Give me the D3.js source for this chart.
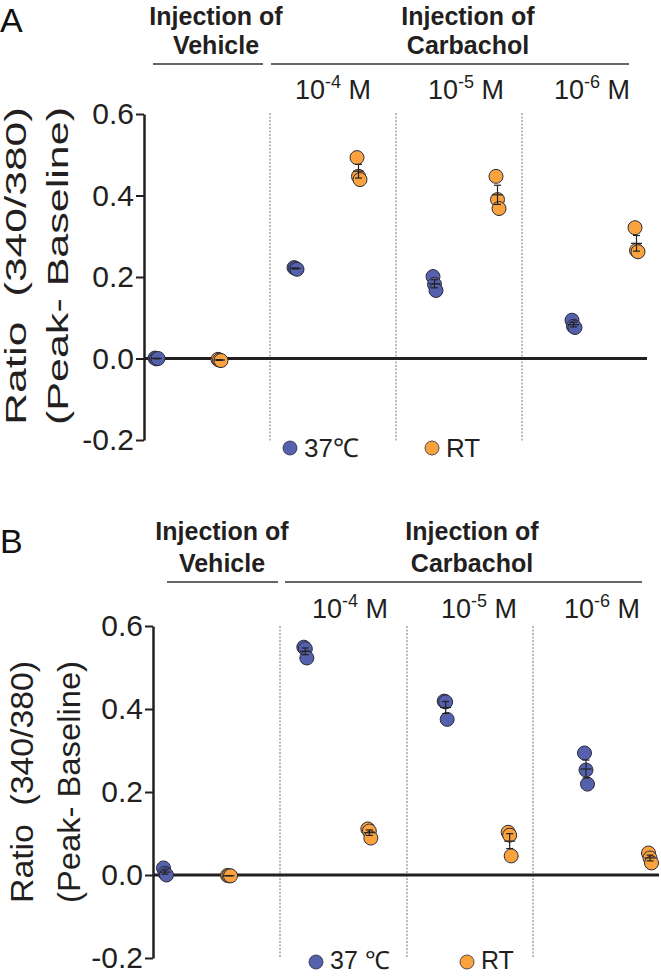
<!DOCTYPE html>
<html>
<head>
<meta charset="utf-8">
<script src="https://cdn.jsdelivr.net/npm/d3@7"></script>
<style>
  body { margin: 0; background: #fff; }
  svg { display: block; font-family: "Liberation Sans", Arial, sans-serif; }
</style>
</head>
<body>
<svg id="chart" width="661" height="976"></svg>
<script>
(function () {
    "use strict";

    // categories
    var groups = ["Vehicle", "1e-4", "1e-5", "1e-6"];
    var series = ["37℃", "RT"];
    var concLabels = [["10", "-4", " M"], ["10", "-5", " M"], ["10", "-6", " M"]];
    var tickValues = [-0.2, 0.0, 0.2, 0.4, 0.6];

    // panel A values, one array of replicates per group
    var a37 = [[0.001, -0.001, 0.0], [0.223, 0.221, 0.219], [0.201, 0.182, 0.167], [0.094, 0.079, 0.076]];
    var aRT = [[-0.002, -0.004, -0.005], [0.493, 0.447, 0.439], [0.447, 0.39, 0.368], [0.321, 0.265, 0.262]];

    // panel B values
    var b37 = [[0.017, 0.004, 0.0], [0.549, 0.545, 0.523], [0.419, 0.417, 0.375], [0.294, 0.253, 0.219]];
    var bRT = [[-0.001, -0.002, -0.002], [0.111, 0.106, 0.089], [0.103, 0.096, 0.046], [0.053, 0.041, 0.029]];

    var colors = { "37℃": "#5561ad", "RT": "#f9a23e" };
    var ink = "#231f20";
    var R = 7;

    var svg = d3.select("#chart");

    var panels = [
        {
            letter: "A", letterY: 32, data: [a37, aRT],
            xr: [186.5, 603.5], yr: [440, 114], axisX: 144, zeroEnd: 647, sOff: 31.5,
            h1: 25, h2: 54, hLine: 64, vehLine: [153, 263], carbLine: [271, 629],
            vehX: 216, carbX: 468, concY: 99, concX: [333, 466, 592],
            dividers: [270, 396, 522], divTop: 113, divBottom: 441,
            legY: 448, legTextY: 457, legend: [[290, "37℃"], [432, "RT"]],
            ylabY: 266, ylabX: [26, 68], ylabLen: 318, ylabFont: 30
        },
        {
            letter: "B", letterY: 553, data: [b37, bRT],
            xr: [195.5, 616.5], yr: [958, 626], axisX: 153, zeroEnd: 659, sOff: 32,
            h1: 540, h2: 572, hLine: 582, vehLine: [167, 278], carbLine: [285, 642],
            vehX: 222, carbX: 472, concY: 618, concX: [350, 479, 602],
            dividers: [280, 407, 533], divTop: 626, divBottom: 958,
            legY: 962, legTextY: 969, legend: [[316, "37 ℃"], [467, "RT"]],
            ylabY: 782, ylabX: [33, 80], ylabLen: 242, ylabFont: 32
        }
    ];

    function mean(v) { return d3.mean(v); }
    function sem(v) { return d3.deviation(v) / Math.sqrt(v.length); }

    panels.forEach(function (p, pi) {
        var g = svg.append("g");
        var x = d3.scaleLinear().domain([0, groups.length - 1]).range(p.xr);
        var xs = d3.scalePoint().domain(series).range([-p.sOff, p.sOff]);
        var y = d3.scaleLinear().domain([-0.2, 0.6]).range(p.yr);

        // panel letter
        g.append("text").attr("x", 0).attr("y", p.letterY)
            .style("font-size", "34px").attr("fill", "#111").text(p.letter);

        // headers
        [[p.vehX, "Vehicle"], [p.carbX, "Carbachol"]].forEach(function (h) {
            g.append("text").attr("x", h[0]).attr("y", p.h1).attr("text-anchor", "middle")
                .style("font-size", "25px").style("font-weight", "bold").attr("fill", ink)
                .text("Injection of");
            g.append("text").attr("x", h[0]).attr("y", p.h2).attr("text-anchor", "middle")
                .style("font-size", "25px").style("font-weight", "bold").attr("fill", ink)
                .text(h[1]);
        });
        [p.vehLine, p.carbLine].forEach(function (l) {
            g.append("line").attr("x1", l[0]).attr("x2", l[1])
                .attr("y1", p.hLine).attr("y2", p.hLine)
                .attr("stroke", "#333").attr("stroke-width", 1.5);
        });

        // concentrations
        concLabels.forEach(function (c, i) {
            var t = g.append("text").attr("x", p.concX[i]).attr("y", p.concY)
                .attr("text-anchor", "middle").attr("fill", ink).style("font-size", "27px");
            t.append("tspan").text(c[0]);
            t.append("tspan").attr("dy", -11).style("font-size", "18px").text(c[1]);
            t.append("tspan").attr("dy", 11).text(c[2]);
        });

        // dotted dividers
        p.dividers.forEach(function (d) {
            g.append("line").attr("x1", d).attr("x2", d)
                .attr("y1", p.divTop).attr("y2", p.divBottom)
                .attr("stroke", "#777").attr("stroke-width", 1)
                .attr("stroke-dasharray", "2,1.5");
        });

        // y axis
        var axis = d3.axisLeft(y).tickValues(tickValues).tickSize(8).tickSizeOuter(0).tickPadding(2)
            .tickFormat(function (d) { return d3.format(".1f")(d).replace("\u2212", "-"); });
        var ag = g.append("g").attr("transform", "translate(" + p.axisX + ",0)").call(axis);
        ag.select(".domain").attr("stroke", ink).attr("stroke-width", 2.5);
        ag.selectAll(".tick line").attr("stroke", ink).attr("stroke-width", 2);
        ag.selectAll(".tick text").attr("fill", ink).style("font-size", "30px")
            .style("font-family", "\"Liberation Sans\", Arial, sans-serif");

        // zero line
        g.append("line").attr("x1", p.axisX).attr("x2", p.zeroEnd)
            .attr("y1", y(0)).attr("y2", y(0))
            .attr("stroke", ink).attr("stroke-width", 3);

        // y label
        ["Ratio  (340/380)", "(Peak- Baseline)"].forEach(function (s, i) {
            g.append("text")
                .attr("transform", "translate(" + p.ylabX[i] + "," + p.ylabY + ") rotate(-90)")
                .attr("text-anchor", "middle").attr("fill", ink)
                .style("font-size", p.ylabFont + "px")
                .style("white-space", "pre")
                .attr("textLength", p.ylabLen).attr("lengthAdjust", "spacingAndGlyphs")
                .text(s);
        });

        // points and error bars
        series.forEach(function (s, si) {
            var vals = p.data[si];
            groups.forEach(function (grp, gi) {
                var cx = x(gi) + xs(s);
                g.selectAll(null).data(vals[gi]).enter().append("circle")
                    .attr("cx", function (d, k) { return cx + k * 1.5; })
                    .attr("cy", function (d) { return y(d); })
                    .attr("r", R)
                    .attr("fill", colors[s])
                    .attr("stroke", "#2b2b3a").attr("stroke-width", 1);
                var m = mean(vals[gi]), e = sem(vals[gi]);
                var eb = g.append("g").attr("stroke", "#222").attr("stroke-width", 1.2);
                eb.append("line").attr("x1", cx + 1.5).attr("x2", cx + 1.5)
                    .attr("y1", y(m - e)).attr("y2", y(m + e));
                [m - e, m + e].forEach(function (v) {
                    eb.append("line").attr("x1", cx - 2).attr("x2", cx + 5)
                        .attr("y1", y(v)).attr("y2", y(v));
                });
                eb.append("line").attr("x1", cx - 4).attr("x2", cx + 7)
                    .attr("y1", y(m)).attr("y2", y(m));
            });
        });

        // legend
        p.legend.forEach(function (l, i) {
            g.append("circle").attr("cx", l[0]).attr("cy", p.legY).attr("r", R)
                .attr("fill", colors[series[i]]).attr("stroke", "#2b2b3a").attr("stroke-width", 0.8);
            g.append("text").attr("x", l[0] + 14).attr("y", p.legTextY)
                .attr("fill", ink).style("font-size", pi === 0 ? "26px" : "25px").text(l[1]);
        });
    });
})();
</script>
</body>
</html>
